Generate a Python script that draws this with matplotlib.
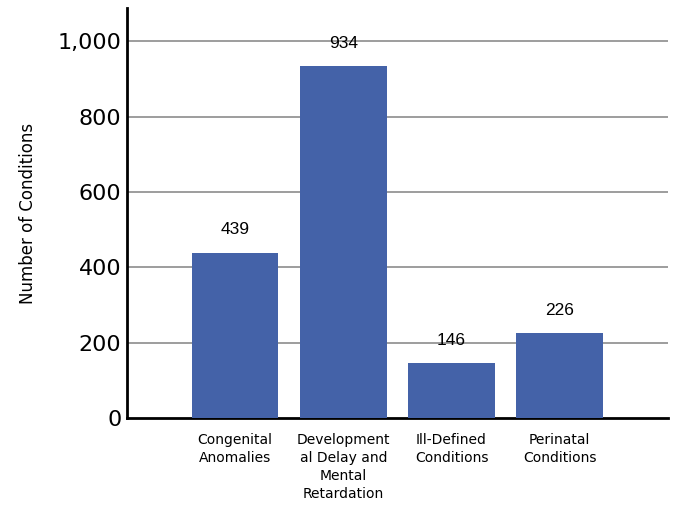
import matplotlib.pyplot as plt
import numpy as np
from matplotlib.ticker import FuncFormatter

# Data
categories = ['Congenital\nAnomalies', 'Development\nal Delay and\nMental\nRetardation',
              'Ill-Defined\nConditions', 'Perinatal\nConditions']
counts = [439, 934, 146, 226]
x = np.arange(len(categories))

fig = plt.figure(figsize=(6.77, 5.12), dpi=100)
ax = fig.add_axes([0.1876, 0.1836, 0.799, 0.8004])

bars = ax.bar(x, counts, width=0.8, color='#4462a8', zorder=3)

# value labels above bars
for xi, v in zip(x, counts):
    ax.annotate(str(v), (xi, v), xytext=(0, 11), textcoords='offset points',
                ha='center', va='bottom', fontsize=12.5, family='Liberation Sans')

ax.set_xlim(-1, 4)
ax.set_ylim(0, 1088)
ax.set_yticks(np.arange(0, 1001, 200))
ax.yaxis.set_major_formatter(FuncFormatter(lambda v, p: '{:,.0f}'.format(v)))
ax.tick_params(axis='y', length=0, labelsize=16, pad=4)
ax.set_xticks(x)
ax.set_xticklabels(categories, fontsize=10, linespacing=1.35)
ax.tick_params(axis='x', length=0, pad=11)

ax.set_ylabel('Number of Conditions', fontsize=12, labelpad=15)

# gridlines on y-axis
for v in range(200, 1001, 200):
    ax.axhline(v, color='#8c8c8c', linewidth=1.2, zorder=1)

for s in ['top', 'right']:
    ax.spines[s].set_visible(False)
ax.spines['left'].set_linewidth(2)
ax.spines['bottom'].set_linewidth(2)

fig.savefig('out.png', dpi=100)
